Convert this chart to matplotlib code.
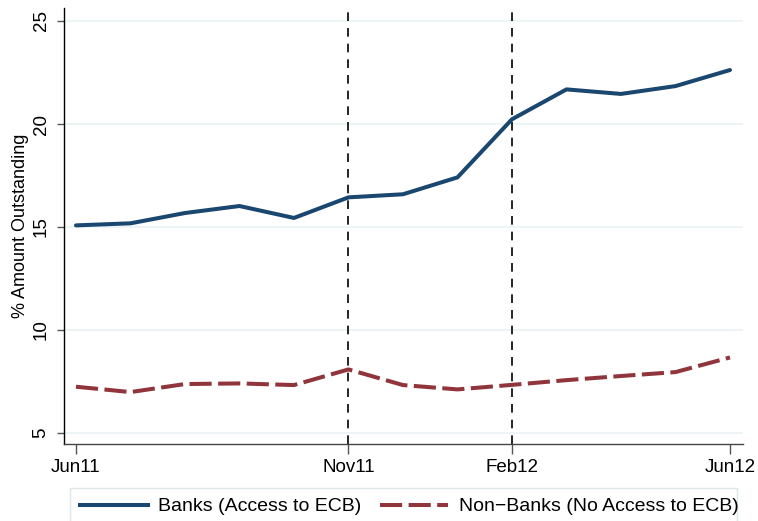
import matplotlib
matplotlib.use("Agg")
import matplotlib.pyplot as plt
from matplotlib.lines import Line2D
from matplotlib.patches import Rectangle

plt.rcParams['font.family'] = ['Liberation Sans', 'DejaVu Sans']

# Monthly observations, June 2011 to June 2012
months = ["Jun11", "Jul11", "Aug11", "Sep11", "Oct11", "Nov11", "Dec11",
          "Jan12", "Feb12", "Mar12", "Apr12", "May12", "Jun12"]
banks = [15.08, 15.18, 15.68, 16.02, 15.44, 16.44, 16.59,
         17.41, 20.23, 21.68, 21.46, 21.84, 22.62]
non_banks = [7.25, 6.99, 7.38, 7.41, 7.33, 8.09, 7.33,
             7.12, 7.34, 7.57, 7.77, 7.96, 8.67]

shown_ticks = ["Jun11", "Nov11", "Feb12", "Jun12"]
event_months = ["Nov11", "Feb12"]
y_ticks = [5, 10, 15, 20, 25]

navy = "#1a476f"
maroon = "#90353b"
grid_col = "#eaf2f3"
LW = 2.9

W, H = 758, 521
fig = plt.figure(figsize=(W / 100, H / 100), dpi=100)
ax = fig.add_axes([63.5 / W, 1 - 444 / H, (743 - 63.5) / W, (444 - 8) / H])

x = list(range(len(months)))

ax.set_ylim(4.47, 25.63)
ax.set_xlim(-0.229, 12.239)

for v in y_ticks:
    ax.axhline(v, color=grid_col, lw=1.2, zorder=0)

for m in event_months:
    ax.axvline(months.index(m), color="black", lw=1.2, dashes=(5.2, 4.2),
               zorder=1)

ax.plot(x, banks, color=navy, lw=LW, solid_capstyle="round",
        solid_joinstyle="round", zorder=3)
ax.plot(x, non_banks, color=maroon, lw=LW, dashes=(5.5, 1.6),
        dash_capstyle="butt", zorder=3)

ax.set_xticks([months.index(m) for m in shown_ticks])
ax.set_xticklabels(shown_ticks, fontsize=13.5)
ax.set_yticks(y_ticks)
ax.set_yticklabels([str(v) for v in y_ticks], fontsize=13.5, rotation=90,
                   va="center")

ax.tick_params(axis="y", length=5, width=1, color="#555555", pad=5)
ax.tick_params(axis="x", length=7, width=1, color="#555555", pad=4)

for s in ["top", "right"]:
    ax.spines[s].set_visible(False)
ax.spines["left"].set_color("black")
ax.spines["bottom"].set_color("#444444")
ax.spines["left"].set_linewidth(1.0)
ax.spines["bottom"].set_linewidth(1.0)

ax.set_ylabel("% Amount Outstanding", fontsize=13)
ax.yaxis.set_label_coords(-0.051, 0.5)

# Legend: entries laid out across the bottom, framed by a light box
handles = [Line2D([0], [0], color=navy, lw=LW),
           Line2D([0], [0], color=maroon, lw=LW, dashes=(5.5, 1.6))]
labels = ["Banks (Access to ECB)", "Non\u2212Banks (No Access to ECB)"]
leg = fig.legend(handles, labels, loc="upper left",
                 bbox_to_anchor=(70 / W, 1 - 488 / H, (748 - 70) / W, 0),
                 mode="expand", ncol=2, fontsize=14, frameon=False,
                 borderpad=0.5, handlelength=3.5, handletextpad=0.55,
                 borderaxespad=0)
fig.patches.append(Rectangle((70 / W, -0.02), (737 - 70) / W,
                             (521 - 488) / H + 0.02, transform=fig.transFigure,
                             fill=False, edgecolor="#dfe6e9", lw=1.0,
                             zorder=0))

fig.savefig("out.png", dpi=100)
